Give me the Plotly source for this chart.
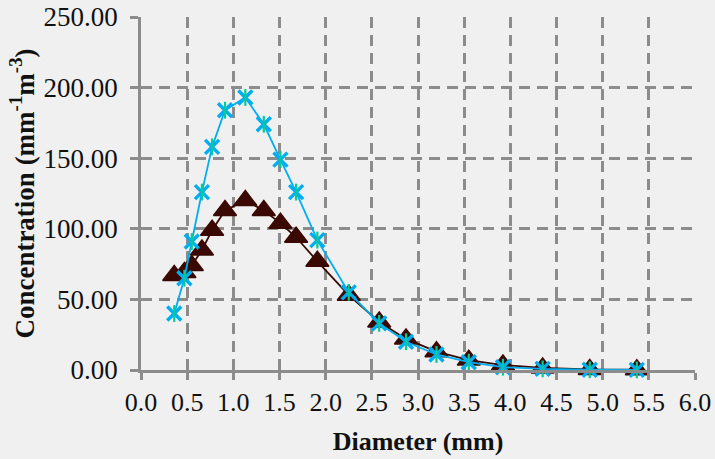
import plotly.graph_objects as go

# Drop diameter bins (mm) and concentration for each series
diameter = [0.36, 0.47, 0.55, 0.66, 0.77, 0.91, 1.13, 1.33, 1.51, 1.68,
            1.91, 2.25, 2.58, 2.87, 3.20, 3.55, 3.92, 4.35, 4.86, 5.37]
conc_blue = [40, 65, 91, 126, 158, 184, 193, 174, 149, 126,
             92, 55, 33, 20, 11, 5.5, 2.0, 0.8, 0.2, 0.1]
conc_brown = [67, 69, 74, 85, 99, 113, 120, 113, 104, 94,
              77, 53, 34, 22, 13, 7.0, 3.5, 1.5, 0.4, 0.2]

x_ticks = [0.0, 0.5, 1.0, 1.5, 2.0, 2.5, 3.0, 3.5, 4.0, 4.5, 5.0, 5.5, 6.0]
y_ticks = [0, 50, 100, 150, 200, 250]

BLUE = "#00AEEF"
BROWN = "#3A0A02"
GRID = "#8C8C8C"
FONT = "Liberation Serif, Times New Roman, serif"
TXT = "#111111"

fig = go.Figure()

fig.add_trace(go.Scatter(
    x=diameter, y=conc_brown, mode="lines+markers",
    line=dict(color=BROWN, width=1.8),
    marker=dict(symbol="triangle-up", size=20, color=BROWN,
                line=dict(color=BROWN, width=1.5)),
    cliponaxis=False, showlegend=False,
))
fig.add_trace(go.Scatter(
    x=diameter, y=conc_blue, mode="lines+markers",
    line=dict(color=BLUE, width=1.8),
    marker=dict(symbol="x-thin-open", size=14,
                line=dict(color=BLUE, width=3.4)),
    cliponaxis=False, showlegend=False,
))
# vertical stroke of the star marker
fig.add_trace(go.Scatter(
    x=diameter, y=conc_blue, mode="markers",
    marker=dict(symbol="line-ns-open", size=12,
                line=dict(color=BLUE, width=2.2)),
    cliponaxis=False, showlegend=False, hoverinfo="skip",
))

fig.update_layout(
    width=715, height=459,
    margin=dict(l=141, r=20, t=17, b=89),
    paper_bgcolor="#F0F0F0", plot_bgcolor="#F0F0F0",
    font=dict(family=FONT, size=26, color=TXT),
)
fig.update_xaxes(
    range=[0, 6], tickvals=x_ticks, tickformat=".1f", automargin=False,
    showline=True, linecolor=GRID, linewidth=2.5,
    ticks="outside", ticklen=7, tickwidth=2.5, tickcolor=GRID,
    ticklabelstandoff=0,
    showgrid=True, gridcolor=GRID, gridwidth=2.5, griddash="11px,7px",
    zeroline=False,
    tickfont=dict(family=FONT, size=26, color=TXT),
    title=dict(text="<b>Diameter (mm)</b>", standoff=16,
               font=dict(family=FONT, size=26, color=TXT)),
)
fig.update_yaxes(
    range=[0, 250], tickvals=y_ticks, tickformat=".2f", automargin=False,
    showline=True, linecolor=GRID, linewidth=2.5,
    ticks="outside", ticklen=8, tickwidth=2.5, tickcolor=GRID,
    ticklabelstandoff=7,
    showgrid=True, gridcolor=GRID, gridwidth=2.5, griddash="11px,7px",
    zeroline=False,
    tickfont=dict(family=FONT, size=27, color=TXT),
    title=dict(text="<b>Concentration (mm<sup>-1</sup>m<sup>-3</sup>)</b>",
               standoff=2,
               font=dict(family=FONT, size=27, color=TXT)),
)

fig.write_html("out.html")
